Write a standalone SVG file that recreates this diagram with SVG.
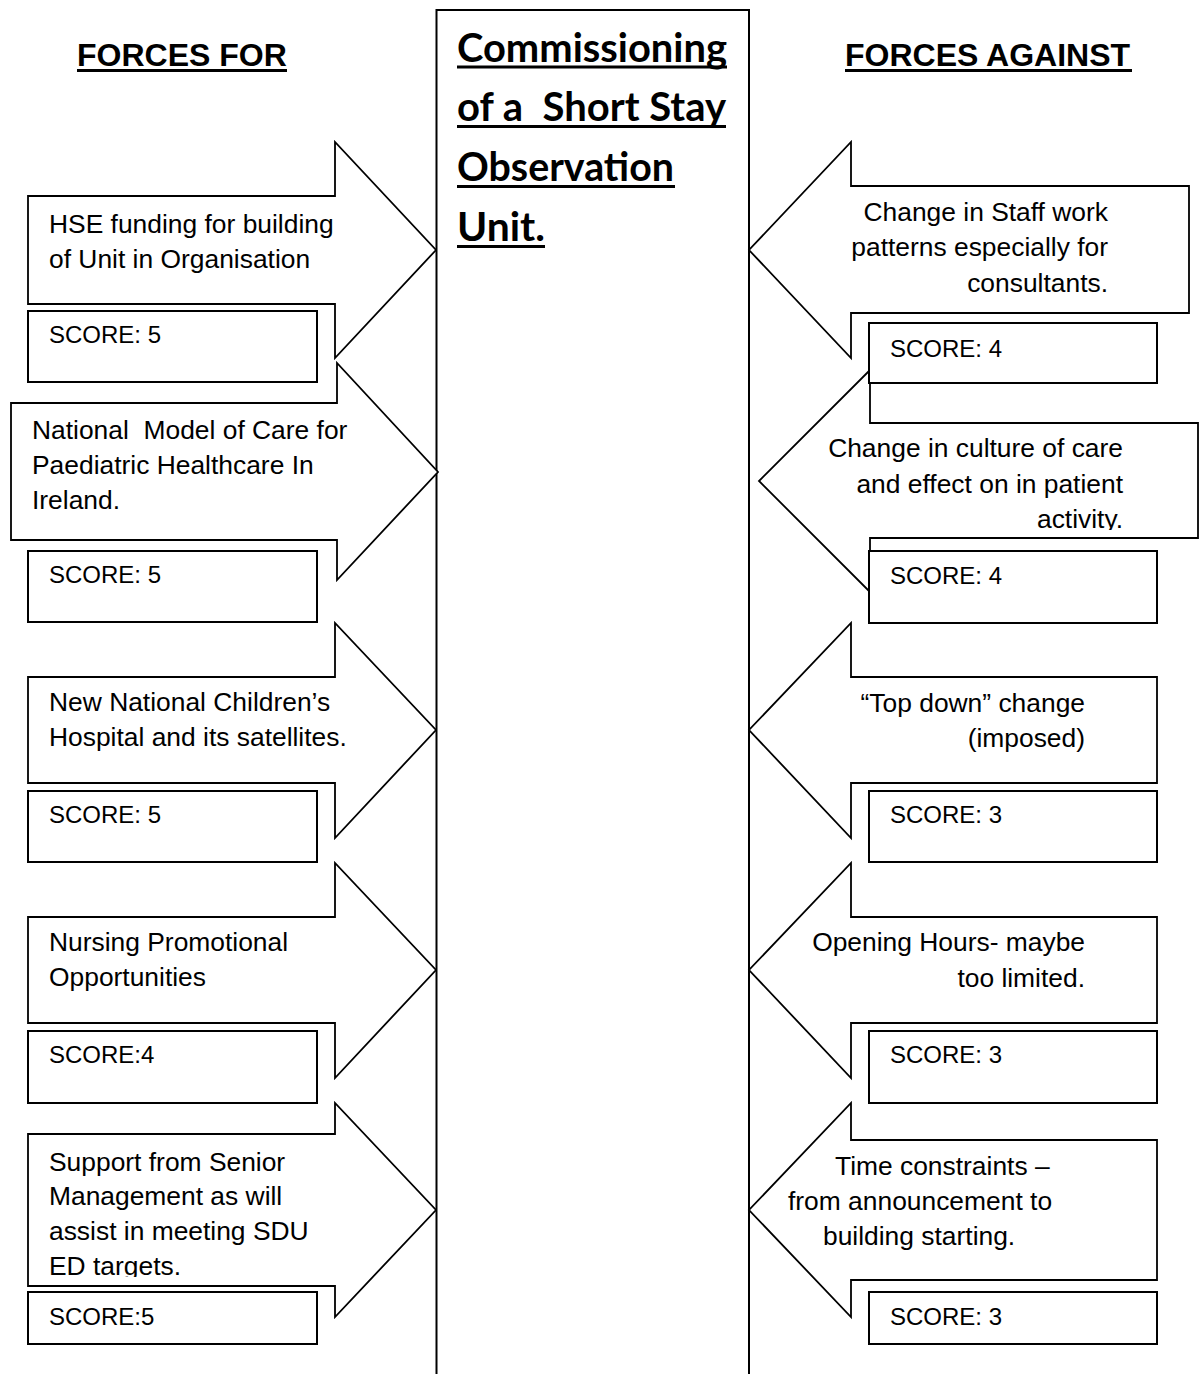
<svg xmlns="http://www.w3.org/2000/svg" width="1199" height="1374" viewBox="0 0 1199 1374">
<style>
.arrow{fill:#fff;stroke:#000;stroke-width:1.8;stroke-linejoin:miter}
.score{fill:#fff;stroke:#000;stroke-width:2}
.t{font-family:"Liberation Sans",Arial,sans-serif;font-size:26.4px;fill:#000;white-space:pre}
.s{font-family:"Liberation Sans",Arial,sans-serif;font-size:24px;fill:#000;white-space:pre}
.end{text-anchor:end}
.h{font-family:"Liberation Sans",Arial,sans-serif;font-size:32px;font-weight:bold;fill:#000}
.title{font-family:Lato,"Open Sans",sans-serif;font-size:40px;font-weight:bold;fill:#000;white-space:pre}
.ul{fill:#000}
</style>
<defs>
<clipPath id="clipA5"><rect x="28" y="1134" width="310" height="143"/></clipPath>
<clipPath id="clipR2"><rect x="760" y="423" width="438" height="107"/></clipPath>
</defs>
<rect x="0" y="0" width="1199" height="1374" fill="#fff"/>

<g id="headers">
<text class="h" x="77" y="66">FORCES FOR</text>
<rect class="ul" x="77" y="69" width="210" height="3"/>
<text class="h" x="845" y="66">FORCES AGAINST</text>
<rect class="ul" x="845" y="69" width="287" height="3"/>
</g>

<g id="center">
<path d="M436.5,1374 V10 H749 V1374" fill="#fff" stroke="#000" stroke-width="2"/>
<text class="title" x="457" y="62" textLength="270" lengthAdjust="spacingAndGlyphs">Commissioning</text>
<rect class="ul" x="457" y="65.5" width="270" height="3"/>
<text class="title" x="457" y="121" textLength="269" lengthAdjust="spacingAndGlyphs">of a  Short Stay</text>
<rect class="ul" x="457" y="125" width="269" height="3"/>
<text class="title" x="457" y="181" textLength="217" lengthAdjust="spacingAndGlyphs">Observation</text>
<rect class="ul" x="457" y="185" width="218" height="3"/>
<text class="title" x="457" y="241" textLength="88" lengthAdjust="spacingAndGlyphs">Unit.</text>
<rect class="ul" x="457" y="245" width="88" height="3"/>
</g>

<g id="for1">
<path class="arrow" d="M28,196 H335 V142 L436,250 L335,358 V304 H28 Z"/>
<text class="t" x="49" y="233">HSE funding for building</text>
<text class="t" x="49" y="268">of Unit in Organisation</text>
</g>
<g id="for2">
<path class="arrow" d="M11,403 H337 V363 L438,472 L337,580 V540 H11 Z"/>
<text class="t" x="32" y="439">National  Model of Care for</text>
<text class="t" x="32" y="474">Paediatric Healthcare In</text>
<text class="t" x="32" y="509">Ireland.</text>
</g>
<g id="for3">
<path class="arrow" d="M28,677 H335 V623 L436,730 L335,838 V783 H28 Z"/>
<text class="t" x="49" y="711">New National Children’s</text>
<text class="t" x="49" y="746">Hospital and its satellites.</text>
</g>
<g id="for4">
<path class="arrow" d="M28,917 H335 V863 L436,970 L335,1078 V1023 H28 Z"/>
<text class="t" x="49" y="951">Nursing Promotional</text>
<text class="t" x="49" y="986">Opportunities</text>
</g>
<g id="for5">
<path class="arrow" d="M28,1134 H335 V1103 L436,1210 L335,1317 V1286 H28 Z"/>
<g clip-path="url(#clipA5)">
<text class="t" x="49" y="1171">Support from Senior</text>
<text class="t" x="49" y="1205">Management as will</text>
<text class="t" x="49" y="1240">assist in meeting SDU</text>
<text class="t" x="49" y="1275">ED targets.</text>
</g>
</g>

<g id="against1">
<path class="arrow" d="M1189,186 H851 V142 L749,250 L851,358 V313 H1189 Z"/>
<text class="t end" x="1108" y="221">Change in Staff work</text>
<text class="t end" x="1108" y="256">patterns especially for</text>
<text class="t end" x="1108" y="292">consultants.</text>
</g>
<g id="against2">
<path class="arrow" d="M1198,423 H870 V370 L759,481 L870,592 V538 H1198 Z"/>
<g clip-path="url(#clipR2)">
<text class="t end" x="1123" y="457">Change in culture of care</text>
<text class="t end" x="1123" y="493">and effect on in patient</text>
<text class="t end" x="1123" y="528">activity.</text>
</g>
</g>
<g id="against3">
<path class="arrow" d="M1157,677 H851 V623 L749,730 L851,838 V783 H1157 Z"/>
<text class="t end" x="1085" y="712">“Top down” change</text>
<text class="t end" x="1085" y="747">(imposed)</text>
</g>
<g id="against4">
<path class="arrow" d="M1157,917 H851 V863 L749,970 L851,1078 V1023 H1157 Z"/>
<text class="t end" x="1085" y="951">Opening Hours- maybe</text>
<text class="t end" x="1085" y="987">too limited.</text>
</g>
<g id="against5">
<path class="arrow" d="M1157,1140 H851 V1103 L749,1210 L851,1317 V1280 H1157 Z"/>
<text class="t" x="835" y="1175">Time constraints –</text>
<text class="t" x="788" y="1210">from announcement to</text>
<text class="t" x="823" y="1245">building starting.</text>
</g>

<g id="score-for1"><rect class="score" x="28" y="311" width="289" height="71"/><text class="s" x="49" y="343">SCORE: 5</text></g>
<g id="score-for2"><rect class="score" x="28" y="551" width="289" height="71"/><text class="s" x="49" y="583">SCORE: 5</text></g>
<g id="score-for3"><rect class="score" x="28" y="791" width="289" height="71"/><text class="s" x="49" y="823">SCORE: 5</text></g>
<g id="score-for4"><rect class="score" x="28" y="1031" width="289" height="72"/><text class="s" x="49" y="1063">SCORE:4</text></g>
<g id="score-for5"><rect class="score" x="28" y="1292" width="289" height="52"/><text class="s" x="49" y="1325">SCORE:5</text></g>

<g id="score-against1"><rect class="score" x="869" y="323" width="288" height="60"/><text class="s" x="890" y="357">SCORE: 4</text></g>
<g id="score-against2"><rect class="score" x="869" y="551" width="288" height="72"/><text class="s" x="890" y="584">SCORE: 4</text></g>
<g id="score-against3"><rect class="score" x="869" y="791" width="288" height="71"/><text class="s" x="890" y="823">SCORE: 3</text></g>
<g id="score-against4"><rect class="score" x="869" y="1031" width="288" height="72"/><text class="s" x="890" y="1063">SCORE: 3</text></g>
<g id="score-against5"><rect class="score" x="869" y="1292" width="288" height="52"/><text class="s" x="890" y="1325">SCORE: 3</text></g>

<g id="connectors"></g>
</svg>
